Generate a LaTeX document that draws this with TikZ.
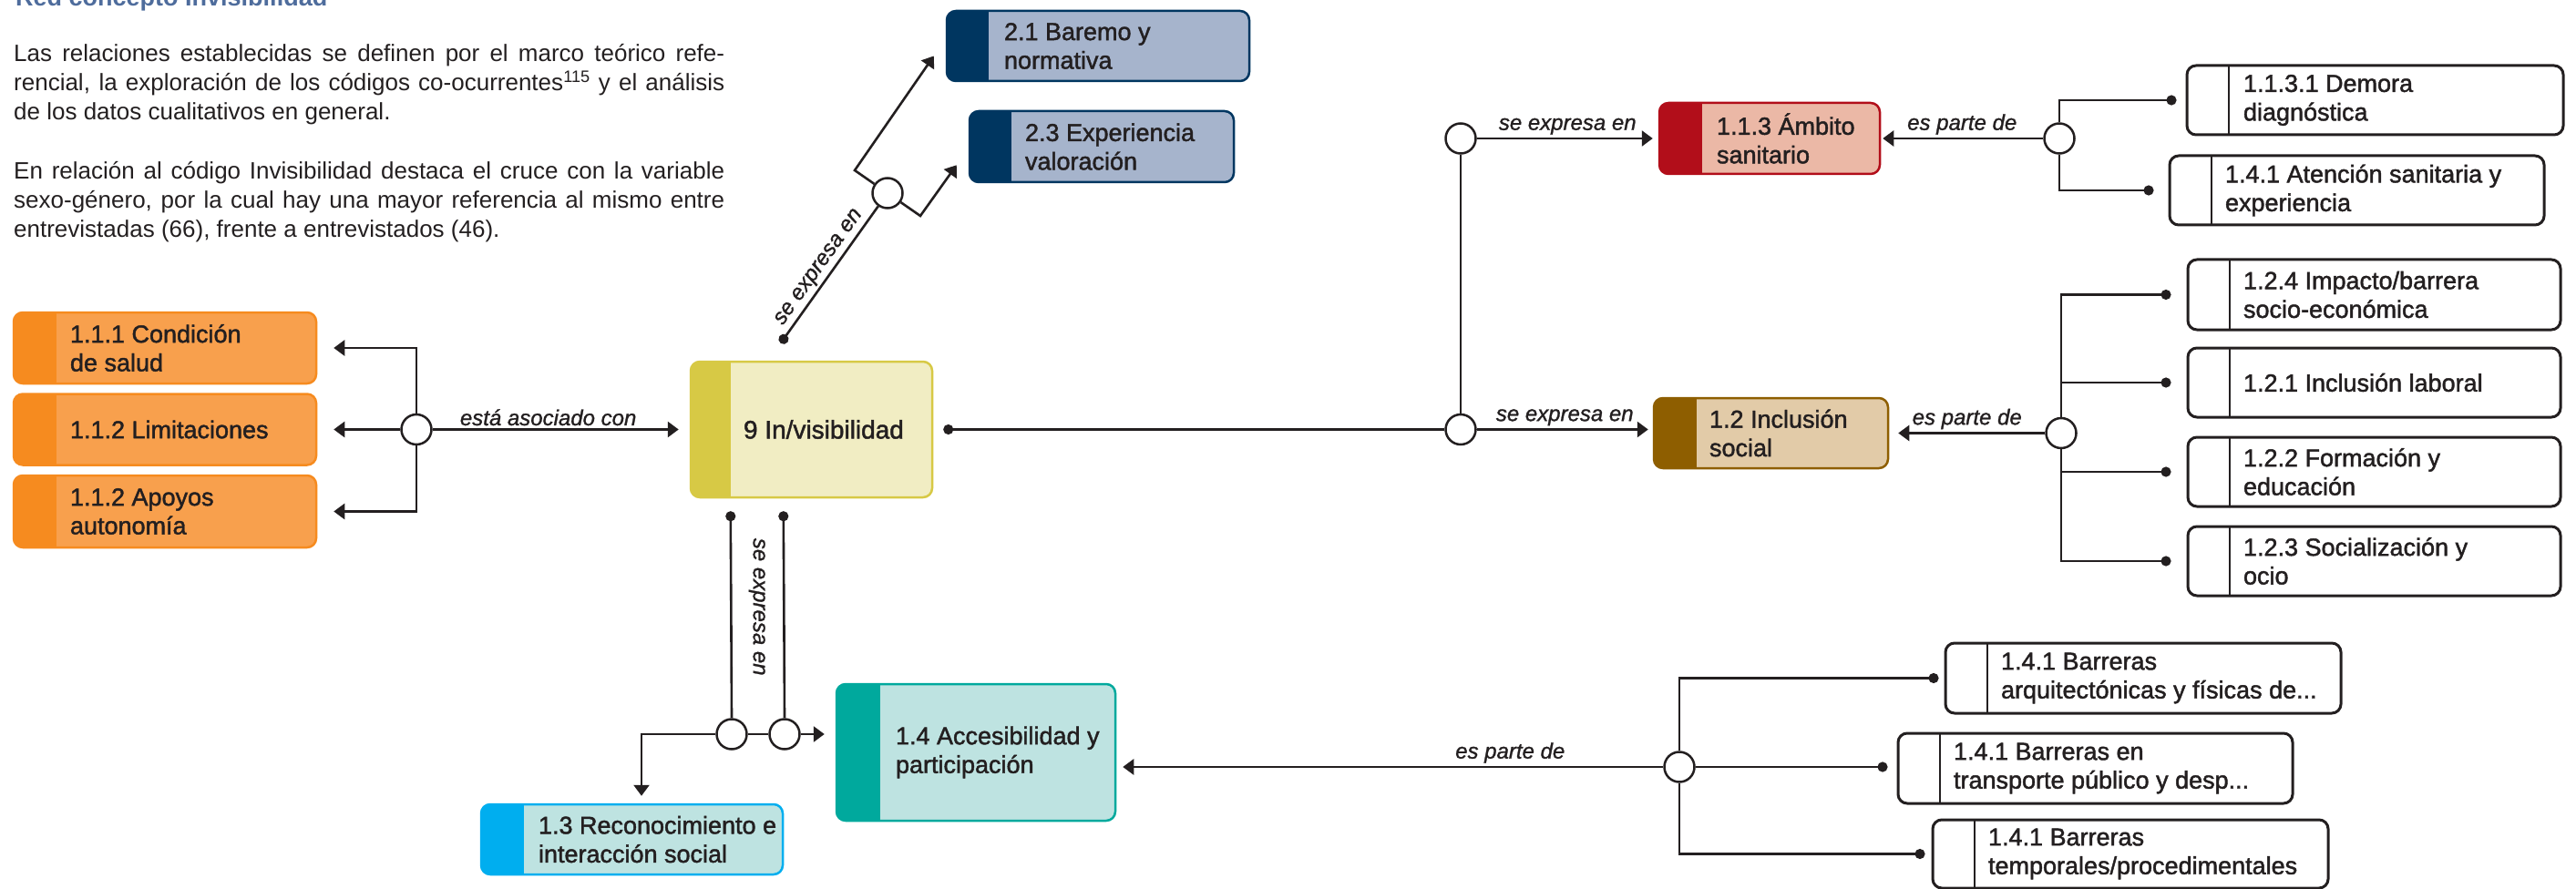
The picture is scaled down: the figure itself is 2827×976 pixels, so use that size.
\documentclass[tikz,border=0pt]{standalone}
\usepackage{fontspec}
\setmainfont{Liberation Sans}
\newfontfamily\lblf[FakeBold=1.6]{Liberation Sans}
\newfontfamily\edgf[FakeBold=1.2]{Liberation Sans}
\usetikzlibrary{arrows.meta,calc,backgrounds}
\definecolor{ink}{HTML}{231F20}
\definecolor{ttl}{HTML}{4E6C9C}
\definecolor{orS}{HTML}{F68B1F}
\definecolor{orF}{HTML}{F8A04D}
\definecolor{yeS}{HTML}{D7C945}
\definecolor{yeF}{HTML}{F1EDC3}
\definecolor{nvS}{HTML}{003660}
\definecolor{nvF}{HTML}{A6B4CC}
\definecolor{rdS}{HTML}{B20E1A}
\definecolor{rdF}{HTML}{EBB8A6}
\definecolor{brS}{HTML}{8E5E00}
\definecolor{brF}{HTML}{E2CBA8}
\definecolor{cyS}{HTML}{00AEEF}
\definecolor{cyF}{HTML}{BEE3E1}
\definecolor{tlS}{HTML}{00A99D}
\definecolor{tlF}{HTML}{BEE3E1}
\newcommand\bxl[3]{\makebox[#1][l]{\hspace*{#2}\parbox[c]{\dimexpr#1-#2-4pt\relax}{\raggedright #3}}}
\tikzset{
 cbox/.style n args={4}{draw=#1, fill=#2, line width=2.5pt, rounded corners=10pt, inner sep=0pt,
   minimum height=#3, text=ink, font=\lblf\fontsize{27}{31.5}\selectfont,
   path picture={\fill[#1, sharp corners] (path picture bounding box.south west) rectangle ([xshift=#4]path picture bounding box.north west);}},
 wbox/.style={draw=ink, fill=white, line width=3pt, rounded corners=10pt, inner sep=0pt,
   minimum height=#1, text=ink, font=\lblf\fontsize{27}{31.5}\selectfont,
   path picture={\draw[ink, line width=2.5pt, sharp corners] ([xshift=46pt]path picture bounding box.south west) -- ([xshift=46pt]path picture bounding box.north west);}},
 jn/.style={circle, draw=ink, fill=white, line width=2.5pt, minimum size=33pt, inner sep=0pt},
 conn/.style={draw=ink, line width=2.6pt},
 arr/.style={conn, -{Triangle[length=12pt,width=17pt]}},
 dotS/.style={conn, {Circle[length=11pt]}-},
 dotE/.style={conn, -{Circle[length=11pt]}},
 lab/.style={font=\edgf\itshape\fontsize{24}{28}\selectfont, text=ink, inner sep=3pt},
}
\begin{document}
\begin{tikzpicture}[x=1pt,y=-1pt]
\useasboundingbox (0,0) rectangle (2827,976);

% title and text
\node[anchor=base west, font=\bfseries\fontsize{27}{30}\selectfont, text=ttl, inner sep=0pt] (title) at (17,7) {Red concepto Invisibilidad};
\node[anchor=base west, text width=780pt, align=justify, inner sep=0pt, text=ink,
      font=\fontsize{26}{32}\selectfont] (para) at (15,68)
 {\hyphenpenalty=10000 \exhyphenpenalty=10000
  Las relaciones establecidas se definen por el marco teórico refe-\linebreak
  rencial, la exploración de los códigos co-ocurrentes\textsuperscript{115} y el análisis\linebreak
  de los datos cualitativos en general.\par\vskip 33pt
  En relación al código Invisibilidad destaca el cruce con la variable\linebreak
  sexo-género, por la cual hay una mayor referencia al mismo entre\linebreak
  entrevistadas (66), frente a entrevistados (46).};

% orange boxes
\node[cbox={orS}{orF}{78pt}{47pt}] (n111) at (181,382) {\bxl{332pt}{62pt}{1.1.1 Condición\\de salud}};
\node[cbox={orS}{orF}{78pt}{47pt}] (n112) at (181,471.5) {\bxl{332pt}{62pt}{1.1.2 Limitaciones}};
\node[cbox={orS}{orF}{79pt}{47pt}] (n112b) at (181,561.5) {\bxl{332pt}{62pt}{1.1.2 Apoyos\\autonomía}};

% main
\node[cbox={yeS}{yeF}{149pt}{44pt}, font=\lblf\fontsize{28}{32}\selectfont] (n9) at (890.5,471.5) {\bxl{265pt}{58pt}{9 In/visibilidad}};

% navy
\node[cbox={nvS}{nvF}{77pt}{46pt}] (n21) at (1205,50.5) {\bxl{332pt}{63pt}{2.1 Baremo y\\normativa}};
\node[cbox={nvS}{nvF}{78pt}{46pt}] (n23) at (1209,161) {\bxl{290pt}{61pt}{2.3 Experiencia\\valoración}};

% red / brown
\node[cbox={rdS}{rdF}{78pt}{47pt}] (n113) at (1942,152) {\bxl{242pt}{63pt}{1.1.3 Ámbito\\sanitario}};
\node[cbox={brS}{brF}{77pt}{47pt}] (n12) at (1943.5,475.5) {\bxl{257pt}{61pt}{1.2 Inclusión\\social}};

% white right boxes
\node[wbox=76pt] (n1131) at (2606.5,110) {\bxl{413pt}{62pt}{1.1.3.1 Demora\\diagnóstica}};
\node[wbox=76pt] (n141a) at (2586.5,209) {\bxl{411pt}{61pt}{1.4.1 Atención sanitaria y\\experiencia}};
\node[wbox=77pt] (n124) at (2605.5,323.5) {\bxl{409pt}{61pt}{1.2.4 Impacto/barrera\\socio-económica}};
\node[wbox=76pt] (n121) at (2605.5,420) {\bxl{409pt}{61pt}{1.2.1 Inclusión laboral}};
\node[wbox=76pt] (n122) at (2605.5,518) {\bxl{409pt}{61pt}{1.2.2 Formación y\\educación}};
\node[wbox=76pt] (n123) at (2605.5,616) {\bxl{409pt}{61pt}{1.2.3 Socialización y\\ocio}};

% bottom
\node[cbox={cyS}{cyF}{77pt}{47pt}] (n13) at (693.5,921.5) {\bxl{331pt}{63pt}{1.3 Reconocimiento e\\interacción social}};
\node[cbox={tlS}{tlF}{150pt}{48pt}] (n14) at (1071,826) {\bxl{306pt}{65pt}{1.4 Accesibilidad y\\participación}};
\node[wbox=77pt] (n141b) at (2352,744.5) {\bxl{434pt}{61pt}{1.4.1 Barreras\\arquitectónicas y físicas de...}};
\node[wbox=77pt] (n141c) at (2299.5,843.5) {\bxl{433pt}{61pt}{1.4.1 Barreras en\\transporte público y desp...}};
\node[wbox=75pt] (n141d) at (2338,937.5) {\bxl{434pt}{61pt}{1.4.1 Barreras\\temporales/procedimentales}};

% junctions
\node[jn] (jL) at (457,471.5) {};
\node[jn] (jT) at (974,212) {};
\node[jn] (jR1) at (1603,152) {};
\node[jn] (jR2) at (1603,471.5) {};
\node[jn] (jS1) at (2260,152) {};
\node[jn] (jS2) at (2262,475.5) {};
\node[jn] (jB1) at (803,806) {};
\node[jn] (jB2) at (861,806) {};
\node[jn] (jA) at (1843,842) {};

\coordinate (dT) at ($(n9.north west)+(100,-19)$);
\coordinate (cT1) at ($(jT)+(-36,-25)$);
\coordinate (cT2) at ($(jT)+(36,25)$);
\coordinate (dB1) at ($(n9.south west)+(45,14)$);
\coordinate (dB2) at ($(n9.south west)+(103,14)$);

\node[lab, rotate=-90] (lblB) at ($(dB1)!0.5!(dB2)+(0,105)$) {se expresa en};

\begin{scope}[on background layer]
% left fan
\draw[arr, shorten >=12pt] (jL.east) -- node[lab, above, pos=0.45] {está asociado con} (jL.east -| n9.west);
\draw[arr, shorten >=18pt] (jL.north) |- (n111.east);
\draw[arr, shorten >=18pt] (jL.west) -- (n112.east);
\draw[arr, shorten >=18pt] (jL.south) |- (n112b.east);
% top diagonal
\draw[dotS] (dT) -- node[lab, sloped, above] {se expresa en} (jT);
\draw[arr] (jT) -- (cT1) -- ($(n21.west)+(-13,11)$);
\draw[arr] (jT) -- (cT2) -- ($(n23.south west)+(-13,-20)$);
% right
\draw[dotS, shorten <=11pt] (n9.east) -- (jR2.west);
\draw[conn] (jR2.north) -- (jR1.south);
\draw[arr, shorten >=6pt] (jR1.east) -- node[lab, above] {se expresa en} (jR1.east -| n113.west);
\draw[arr, shorten >=5pt] (jR2.east) -- node[lab, above] {se expresa en} (jR2.east -| n12.west);
\draw[arr, shorten >=2pt] (jS1.west) -- node[lab, above] {es parte de} (jS1.west -| n113.east);
\draw[dotE, shorten >=10pt] (jS1.north) |- (n1131.west);
\draw[dotE, shorten >=16pt] (jS1.south) |- (n141a.west);
\draw[arr, shorten >=10pt] (jS2.west) -- node[lab, above] {es parte de} (jS2.west -| n12.east);
\draw[dotE, shorten >=17pt] (jS2.north) |- (n124.west);
\draw[dotE, shorten >=17pt] (jS2.north) |- (n121.west);
\draw[dotE, shorten >=17pt] (jS2.south) |- (n122.west);
\draw[dotE, shorten >=17pt] (jS2.south) |- (n123.west);
% bottom
\draw[dotS] (dB1) -- (jB1.north);
\draw[dotS] (dB2) -- (jB2.north);
\draw[conn] (jB1.east) -- (jB2.west);
\draw[arr, shorten >=12pt] (jB2.east) -- (jB2.east -| n14.west);
\draw[arr, shorten >=8pt] (jB1.west) -| ($(n13.north)+(10.5,0)$);
\draw[arr, shorten >=7pt] (jA.west) -- node[lab, above, pos=0.28] {es parte de} (jA.west -| n14.east);
\draw[dotE, shorten >=6pt] (jA.north) |- (n141b.west);
\draw[dotE, shorten >=10pt] (jA.east) -- (jA.east -| n141c.west);
\draw[dotE, shorten >=7pt] (jA.south) |- (n141d.west);
\end{scope}
\end{tikzpicture}
\end{document}
